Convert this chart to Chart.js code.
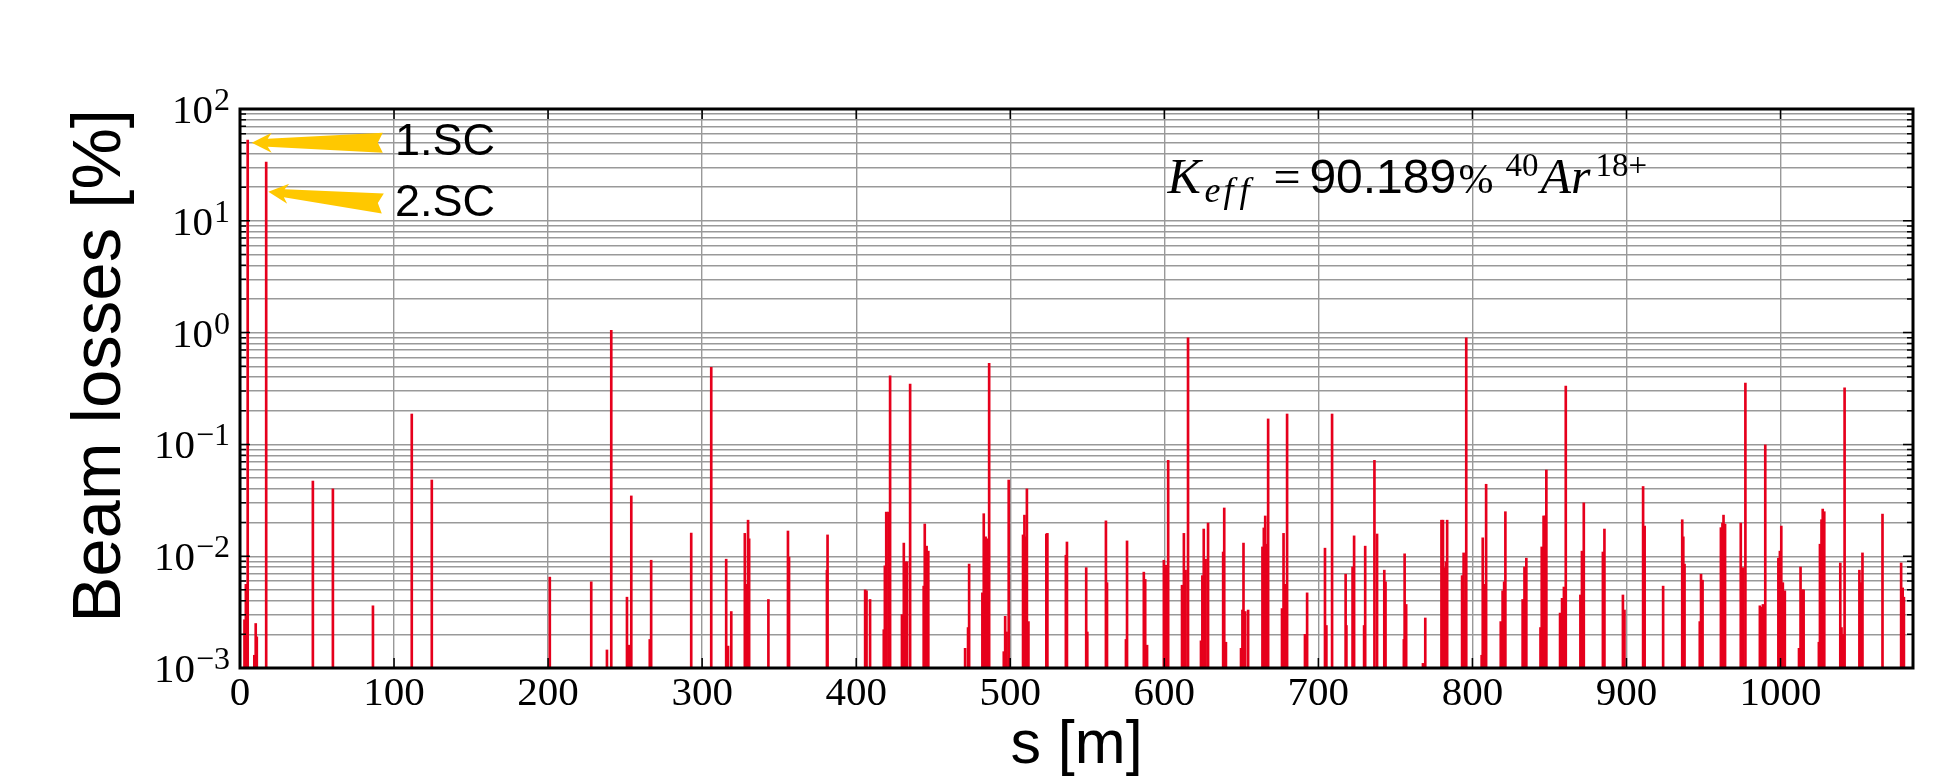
<!DOCTYPE html>
<html>
<head>
<meta charset="utf-8">
<title>Beam losses</title>
<script src="https://cdn.jsdelivr.net/npm/chart.js@4/dist/chart.umd.min.js"></script>
<style>
    html, body { margin: 0; padding: 0; background: #fff; }
    canvas { display: block; }
</style>
</head>
<body>
<canvas id="losses" width="1950" height="780"></canvas>
<script>
// positions along the ring, s [m]
const positions = [
    2.9, 3.8, 5.0, 9.3, 10.2, 10.9, 17.0, 47.3, 60.3, 86.3,
    111.5, 124.5, 201.1, 228.0, 238.2, 241.0, 251.2, 252.3, 254.0, 266.0,
    266.9, 292.9, 305.9, 315.6, 316.8, 318.9, 327.7, 328.6, 329.8, 330.5,
    343.0, 355.7, 356.4, 381.0, 381.4, 405.8, 406.7, 409.0, 417.9, 418.6,
    419.5, 420.9, 422.0, 429.7, 430.9, 432.0, 433.0, 435.0, 443.8, 444.5,
    445.7, 446.8, 470.7, 472.6, 473.3, 481.9, 482.8, 484.0, 485.1, 486.3,
    495.8, 496.7, 497.6, 499.0, 508.3, 509.2, 510.2, 510.8, 511.8, 523.4,
    524.1, 536.1, 536.8, 549.3, 550.0, 562.1, 562.8, 575.1, 575.8, 586.7,
    587.6, 588.8, 599.7, 601.1, 602.5, 611.5, 612.7, 613.8, 615.4, 623.8,
    624.7, 625.6, 626.8, 628.4, 638.2, 638.9, 640.0, 649.8, 650.7, 651.4,
    652.5, 654.4, 663.7, 664.6, 665.5, 666.5, 667.4, 676.4, 677.4, 678.3,
    679.7, 691.3, 692.7, 704.3, 705.2, 708.9, 717.7, 718.2, 722.2, 723.2,
    729.7, 730.4, 736.4, 738.1, 742.8, 743.6, 755.5, 756.0, 757.0, 767.9,
    769.4, 779.9, 780.9, 781.6, 782.8, 783.6, 793.3, 794.3, 795.3, 796.0,
    806.0, 806.7, 807.5, 808.2, 808.9, 818.4, 819.6, 820.6, 821.4, 832.6,
    833.8, 835.0, 844.2, 845.0, 846.2, 847.1, 848.0, 856.9, 858.2, 859.4,
    860.6, 870.1, 871.1, 872.3, 884.7, 885.7, 897.7, 898.7, 910.8, 911.8,
    923.8, 936.2, 936.9, 937.7, 947.6, 948.4, 949.4, 961.3, 962.3, 963.0,
    964.0, 974.2, 975.7, 977.2, 986.6, 987.6, 988.6, 990.1, 998.6, 999.6,
    1000.5, 1001.5, 1002.8, 1012.0, 1013.0, 1014.2, 1015.0, 1024.9, 1025.6, 1026.6,
    1027.4, 1028.4, 1038.8, 1039.6, 1040.6, 1041.6, 1051.2, 1052.2, 1053.2, 1066.2,
    1078.3, 1079.3, 1080.1
];

// beam losses [%] at each position
const losses = [
    0.0027, 0.0056, 52.8, 0.0013, 0.0025, 0.0019, 33.6, 0.047, 0.040, 0.0036,
    0.187, 0.048, 0.0065, 0.0059, 0.00145, 1.05, 0.0043, 0.0016, 0.0346, 0.0018,
    0.0092, 0.0161, 0.49, 0.0094, 0.00157, 0.0032, 0.016, 0.0056, 0.021, 0.0143,
    0.0041, 0.0168, 0.0098, 0.0075, 0.0155, 0.0050, 0.0049, 0.0041, 0.0022, 0.0082,
    0.0248, 0.0248, 0.41, 0.0030, 0.0131, 0.0089, 0.0089, 0.347, 0.0054, 0.0194,
    0.0123, 0.0111, 0.0015, 0.0023, 0.0085, 0.0047, 0.024, 0.0149, 0.0143, 0.53,
    0.0014, 0.0029, 0.0021, 0.048, 0.0155, 0.0233, 0.0149, 0.040, 0.0026, 0.0158,
    0.016, 0.0102, 0.0134, 0.0079, 0.0021, 0.0207, 0.0058, 0.0018, 0.0137, 0.0072,
    0.0062, 0.0016, 0.0092, 0.0083, 0.072, 0.0055, 0.016, 0.0075, 0.90, 0.00175,
    0.0067, 0.0175, 0.0094, 0.0198, 0.0109, 0.027, 0.0017, 0.0015, 0.0033, 0.0131,
    0.0032, 0.0033, 0.0121, 0.0179, 0.0229, 0.0128, 0.169, 0.0034, 0.016, 0.0056,
    0.187, 0.0020, 0.0047, 0.0118, 0.0024, 0.187, 0.0069, 0.0024, 0.0080, 0.0152,
    0.0024, 0.0123, 0.072, 0.0158, 0.0075, 0.0059, 0.0018, 0.0105, 0.0037, 0.0011,
    0.0028, 0.021, 0.021, 0.0079, 0.0089, 0.021, 0.0067, 0.0107, 0.0040, 0.90,
    0.0013, 0.0146, 0.0032, 0.0056, 0.044, 0.0026, 0.0049, 0.0059, 0.025, 0.0041,
    0.0080, 0.0096, 0.0023, 0.0121, 0.0229, 0.0229, 0.059, 0.0031, 0.0042, 0.0053,
    0.333, 0.0045, 0.0111, 0.030, 0.0109, 0.0175, 0.0045, 0.0033, 0.042, 0.0186,
    0.0054, 0.0212, 0.0149, 0.0085, 0.0026, 0.0069, 0.0061, 0.0180, 0.0198, 0.0233,
    0.0194, 0.0198, 0.0079, 0.354, 0.0036, 0.0035, 0.0037, 0.099, 0.0096, 0.0111,
    0.0186, 0.0058, 0.0049, 0.0015, 0.0080, 0.0050, 0.0050, 0.0017, 0.0128, 0.0212,
    0.0264, 0.025, 0.0087, 0.0023, 0.0020, 0.32, 0.0075, 0.0058, 0.0107, 0.0238,
    0.0087, 0.0052, 0.0043
];

const xTicks = [0, 100, 200, 300, 400, 500, 600, 700, 800, 900, 1000];
const yExponents = [-3, -2, -1, 0, 1, 2];
const yTickLabels = ['\u22123', '\u22122', '\u22121', '0', '1', '2'];

const red = '#E6001C';
const gold = '#FFC800';
const gridGrey = '#999999';
const serif = '"Liberation Serif", "DejaVu Serif", serif';
const sans = '"Liberation Sans", Arial, sans-serif';

// 1..9 x 10^e for every decade, up to the top of the axis
const yTickValues = [];
yExponents.forEach((e, i) => {
    const last = i === yExponents.length - 1;
    for (let m = 1; m <= (last ? 1 : 9); m++) {
        yTickValues.push(m * Math.pow(10, e));
    }
});

function isDecade(v) {
    const l = Math.log10(v);
    return Math.abs(l - Math.round(l)) < 1e-9;
}

// box round the plot with inward ticks on all four sides
const frameTicks = {
    id: 'frameTicks',
    afterDraw(chart) {
        const { ctx, chartArea: a, scales: { x, y } } = chart;
        ctx.save();
        ctx.strokeStyle = '#000';
        ctx.lineWidth = 1.5;
        ctx.beginPath();
        x.ticks.forEach(t => {
            const px = x.getPixelForValue(t.value);
            ctx.moveTo(px, a.bottom);
            ctx.lineTo(px, a.bottom - 10);
            ctx.moveTo(px, a.top);
            ctx.lineTo(px, a.top + 10);
        });
        y.ticks.forEach(t => {
            const py = y.getPixelForValue(t.value);
            const len = isDecade(t.value) ? 10 : 6;
            ctx.moveTo(a.left, py);
            ctx.lineTo(a.left + len, py);
            ctx.moveTo(a.right, py);
            ctx.lineTo(a.right - len, py);
        });
        ctx.stroke();
        ctx.lineWidth = 3;
        ctx.strokeRect(a.left, a.top, a.right - a.left, a.bottom - a.top);
        ctx.restore();
    }
};

// 10^n labels on the log axis
const powerLabels = {
    id: 'powerLabels',
    afterDraw(chart) {
        const { ctx, chartArea, scales: { y } } = chart;
        const right = chartArea.left - 10;
        ctx.save();
        ctx.fillStyle = '#000';
        ctx.textAlign = 'right';
        ctx.textBaseline = 'alphabetic';
        yExponents.forEach((e, i) => {
            const py = y.getPixelForValue(Math.pow(10, e));
            ctx.font = '32px ' + serif;
            const w = ctx.measureText(yTickLabels[i]).width;
            ctx.fillText(yTickLabels[i], right, py + 1);
            ctx.font = '41px ' + serif;
            ctx.fillText('10', right - w - 1, py + 14);
        });
        ctx.restore();
    }
};

function fancyArrow(ctx, tail, tip) {
    const dx = tail.x - tip.x;
    const dy = tail.y - tip.y;
    const len = Math.hypot(dx, dy);
    const ux = dx / len, uy = dy / len;
    const nx = -uy, ny = ux;
    const shape = [
        [0, 0], [20, -10], [16, -4], [len, -10], [len - 5, 0],
        [len, 10], [16, 4], [20, 10]
    ];
    ctx.beginPath();
    shape.forEach(([d, w], i) => {
        const px = tip.x + ux * d + nx * w;
        const py = tip.y + uy * d + ny * w;
        if (i === 0) ctx.moveTo(px, py); else ctx.lineTo(px, py);
    });
    ctx.closePath();
    ctx.fill();
}

// arrows to the two septum losses and the efficiency text
const notes = {
    id: 'notes',
    afterDraw(chart) {
        const { ctx, scales: { x, y } } = chart;
        const pt = (s, v) => ({ x: x.getPixelForValue(s), y: y.getPixelForValue(v) });

        ctx.save();
        ctx.fillStyle = gold;
        fancyArrow(ctx, pt(92.7, 50), pt(7.6, 50));
        fancyArrow(ctx, pt(92.7, 14.3), pt(18.4, 18.2));

        ctx.fillStyle = '#000';
        ctx.textAlign = 'left';
        ctx.textBaseline = 'middle';
        ctx.font = '45px ' + sans;
        const t1 = pt(100.6, 50);
        ctx.fillText('1.SC', t1.x, t1.y);
        const t2 = pt(100.6, 14.3);
        ctx.fillText('2.SC', t2.x, t2.y);

        // K_eff =90.189% ^40Ar^18+, math parts in serif, the number in sans
        const k = pt(602, 17.7);
        ctx.textBaseline = 'alphabetic';
        const pieces = [
            ['K', 'italic 50px ' + serif, 0, 0],
            ['e', 'italic 36px ' + serif, 37, 9],
            ['f', 'italic 36px ' + serif, 56, 9],
            ['f', 'italic 36px ' + serif, 72, 9],
            ['=', '48px ' + serif, 106, 0],
            ['90.189', '48px ' + sans, 142, 0],
            ['%', '42px ' + serif, 291, 0],
            ['40', '33px ' + serif, 338, -17],
            ['Ar', 'italic 50px ' + serif, 373, 0],
            ['18+', '33px ' + serif, 428, -17]
        ];
        pieces.forEach(([text, font, dx, dy]) => {
            ctx.font = font;
            ctx.fillText(text, k.x + dx, k.y + dy);
        });
        ctx.restore();
    }
};

const canvas = document.getElementById('losses');

new Chart(canvas, {
    type: 'bar',
    data: {
        datasets: [{
            data: positions.map((s, i) => ({ x: s, y: losses[i] })),
            backgroundColor: red,
            borderWidth: 0,
            barThickness: 2
        }]
    },
    options: {
        responsive: false,
        animation: false,
        devicePixelRatio: 1,
        layout: { padding: { top: 109, right: 37, left: 0, bottom: 0 } },
        plugins: {
            legend: { display: false },
            tooltip: { enabled: false }
        },
        scales: {
            x: {
                type: 'linear',
                min: 0,
                max: 1086,
                offset: false,
                z: 1,
                afterBuildTicks: scale => { scale.ticks = xTicks.map(v => ({ value: v })); },
                afterFit: scale => { scale.height = 112; },
                grid: { offset: false, color: gridGrey, lineWidth: 1.4, drawTicks: false },
                border: { display: false },
                ticks: {
                    color: '#000',
                    font: { family: serif, size: 41 },
                    padding: 2,
                    autoSkip: false,
                    maxRotation: 0,
                    callback: value => String(value)
                },
                title: {
                    display: true,
                    text: 's [m]',
                    color: '#000',
                    font: { family: sans, size: 61, lineHeight: 1 },
                    padding: { bottom: 3 }
                }
            },
            y: {
                type: 'logarithmic',
                min: 1e-3,
                max: 100,
                z: 1,
                afterBuildTicks: scale => { scale.ticks = yTickValues.map(v => ({ value: v })); },
                afterFit: scale => { scale.width = 240; },
                grid: { color: gridGrey, lineWidth: 1.4, drawTicks: false },
                border: { display: false },
                ticks: { display: false },
                title: {
                    display: true,
                    text: 'Beam losses [%]',
                    color: '#000',
                    align: 'end',
                    font: { family: sans, size: 69, lineHeight: 1 },
                    padding: { top: 66 }
                }
            }
        }
    },
    plugins: [frameTicks, powerLabels, notes]
});
</script>
</body>
</html>
